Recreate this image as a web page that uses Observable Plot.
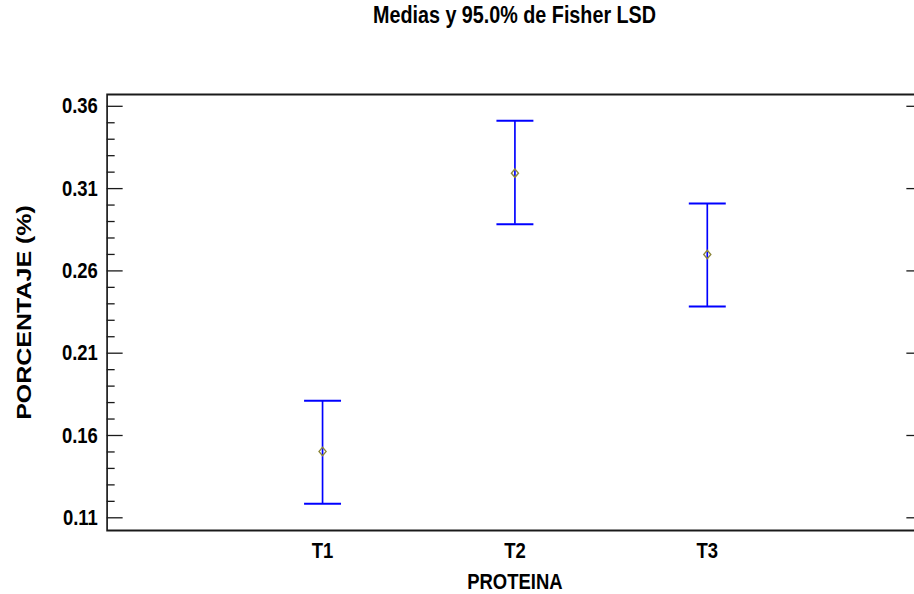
<!DOCTYPE html>
<html>
<head>
<meta charset="utf-8">
<script src="https://cdn.jsdelivr.net/npm/d3@7"></script>
<script src="https://cdn.jsdelivr.net/npm/@observablehq/plot@0.6"></script>
<style>
  html, body { margin: 0; padding: 0; background: #fff; overflow: hidden; }
  #wrap { width: 1102px; transform: scaleX(0.84); transform-origin: 0 0; }
  #title { box-sizing: border-box; width: 1102px; height: 40px; padding-left: 123px;
           text-align: center; font: bold 23.5px "Liberation Sans", Arial, sans-serif;
           line-height: 30px; color: #000; }
  svg [aria-label^="y-axis"] text { font-size: 22px; font-weight: bold; }
  svg [aria-label^="x-axis"] text { font-size: 22px; font-weight: bold; }
</style>
</head>
<body>
<div id="wrap"><div id="title">Medias y 95.0% de Fisher LSD</div></div>
<script>
// ---- data ----
const categories = ["T1", "T2", "T3"];
const means = [0.1503, 0.3194, 0.2700];
const lower = [0.1185, 0.2884, 0.2384];
const upper = [0.1811, 0.3512, 0.3009];
const yTicks = [0.11, 0.16, 0.21, 0.26, 0.31, 0.36];
const yMinorTicks = [0.12, 0.13, 0.14, 0.15, 0.17, 0.18, 0.19, 0.20, 0.22, 0.23, 0.24, 0.25,
                     0.27, 0.28, 0.29, 0.30, 0.32, 0.33, 0.34, 0.35];
const yDomain = [0.10228, 0.36717];
const xDomain = [-0.12, 4.12];
const xLabel = "PROTEINA";
const yLabel = "PORCENTAJE (%)";

const data = categories.map((c, i) => ({idx: i + 1, cat: c, mean: means[i], lo: lower[i], hi: upper[i]}));

// ---- layout (unscaled px; the wrapper is squeezed horizontally like the original) ----
const W = 1102, H = 554;
const mL = 127, mR = 4, mT = 54, mB = 64;
const plotW = W - mL - mR;
const majorLen = 19, minorLen = 9.5;
const blue = "#0000ff";
const ink = "#1a1a1a";

const capSymbol = {
  draw(context, size) {
    const r = Math.sqrt(size / Math.PI);
    context.moveTo(-r, 0);
    context.lineTo(r, 0);
  }
};

const chart = Plot.plot({
  width: W, height: H,
  marginLeft: mL, marginRight: mR, marginTop: mT, marginBottom: mB,
  style: {fontFamily: "'Liberation Sans', Arial, sans-serif", fontWeight: "bold", color: "#000", background: "#fff", overflow: "visible"},
  x: {type: "linear", domain: xDomain, ticks: [1, 2, 3], tickFormat: d => categories[d - 1] ?? "", tickSize: 0, tickPadding: 12, label: null},
  y: {domain: yDomain, ticks: yTicks, tickFormat: d => d.toFixed(2), tickSize: 0, tickPadding: 11, label: null},
  marks: [
    // ticks inside the frame
    Plot.ruleY(yTicks, {y: d => d, insetRight: plotW - majorLen, stroke: ink, strokeWidth: 1.3}),
    Plot.ruleY(yTicks, {y: d => d, insetLeft: plotW - majorLen, stroke: ink, strokeWidth: 1.3}),
    Plot.ruleY(yMinorTicks, {y: d => d, insetRight: plotW - minorLen, stroke: ink, strokeWidth: 1.3}),
    Plot.ruleY(yMinorTicks, {y: d => d, insetLeft: plotW - minorLen, stroke: "#888", strokeWidth: 1.3}),
    // error bars
    Plot.ruleX(data, {x: "idx", y1: "lo", y2: "hi", stroke: blue, strokeWidth: 2}),
    Plot.dot(data, {x: "idx", y: "hi", symbol: capSymbol, r: 22, stroke: blue, strokeWidth: 2, fill: "none"}),
    Plot.dot(data, {x: "idx", y: "lo", symbol: capSymbol, r: 22, stroke: blue, strokeWidth: 2, fill: "none"}),
    Plot.dot(data, {x: "idx", y: "mean", symbol: "diamond2", r: 3.8, stroke: "#8c873a", strokeWidth: 1.5, fill: "none"}),
    Plot.frame({stroke: ink, strokeWidth: 2}),
    // axis titles
    Plot.text([yLabel], {frameAnchor: "left", dx: -99, rotate: -90, text: d => d, fontSize: 25, fontWeight: "bold", fill: "#000", textAnchor: "middle", lineAnchor: "middle"}),
    Plot.text([xLabel], {frameAnchor: "bottom", dy: 58.3, text: d => d, fontSize: 22, fontWeight: "bold", fill: "#000", textAnchor: "middle", lineAnchor: "bottom"})
  ]
});
document.getElementById("wrap").appendChild(chart);
</script>
</body>
</html>
